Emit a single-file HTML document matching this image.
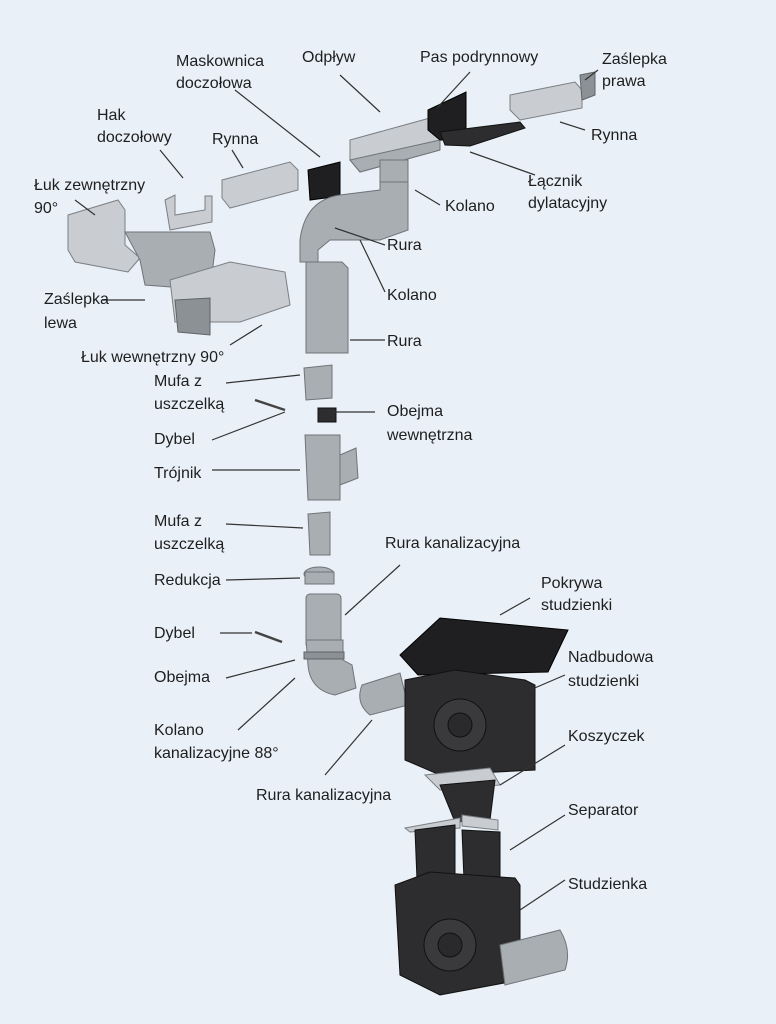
<!DOCTYPE html>
<html><head><meta charset="utf-8"><style>
html,body{margin:0;padding:0;background:#e9f0f7}
svg{display:block}
text{font-family:"Liberation Sans",sans-serif;font-size:16px;fill:#1e1e1e}
.l{stroke:#333;stroke-width:1.2;fill:none}
.g{fill:#a9aeb3;stroke:#6f7479;stroke-width:1}
.gl{fill:#c9cdd1;stroke:#7a7f84;stroke-width:1}
.gd{fill:#8c9196;stroke:#5f6468;stroke-width:1}
.k{fill:#2d2d2f;stroke:#111;stroke-width:1}
.kd{fill:#1f1f21;stroke:#000;stroke-width:1}
</style></head><body>
<svg width="776" height="1024" viewBox="0 0 776 1024">
<rect width="776" height="1024" fill="#e9f0f7"/>
<!-- gutters top -->
<polygon class="gl" points="350,140 430,118 440,130 440,150 360,172 350,160"/>
<polygon class="g" points="350,160 440,140 440,150 360,172"/>
<rect class="g" x="380" y="160" width="28" height="22"/>
<polygon class="kd" points="428,110 466,92 466,140 440,140 428,130"/>
<polygon class="k" points="440,132 520,122 525,128 470,146 445,145"/>
<polygon class="kd" points="308,170 340,162 340,196 310,200"/>
<polygon class="gl" points="510,95 575,82 582,90 582,108 520,120 510,110"/>
<polygon class="gd" points="580,75 595,72 595,95 582,100"/>
<polygon class="gl" points="222,180 290,162 298,170 298,190 230,208 222,198"/>
<polygon class="gl" points="165,200 175,195 175,215 205,210 205,196 212,196 212,222 170,230"/>
<polygon class="gl" points="68,215 118,200 125,210 125,245 140,258 128,272 75,262 68,250"/>
<polygon class="g" points="125,232 210,232 215,250 210,290 145,285 140,260"/>
<polygon class="gl" points="170,280 230,262 285,272 290,305 240,322 175,322"/>
<polygon class="gd" points="175,300 210,298 210,335 178,332"/>
<!-- downpipe -->
<path class="g" d="M380,182 L408,182 L408,230 L380,240 L330,240 L318,250 L318,262 L300,262 L300,240 Q305,200 340,195 L380,190Z"/>
<polygon class="g" points="306,262 342,262 348,268 348,353 306,353"/>
<polygon class="g" points="304,368 332,365 332,398 306,400"/>
<polygon class="k" points="318,408 336,408 336,422 318,422"/>
<polygon class="g" points="305,435 340,435 340,500 308,500"/>
<polygon class="g" points="340,455 356,448 358,478 340,485"/>
<polygon class="g" points="308,514 330,512 330,555 310,555"/>
<ellipse class="g" cx="319" cy="574" rx="15" ry="7"/>
<rect class="g" x="305" y="572" width="29" height="12"/>
<rect class="g" x="306" y="594" width="35" height="54" rx="4"/>
<path class="g" d="M306,640 L343,640 L343,660 L352,665 L356,688 L335,695 Q310,690 308,665Z"/>
<rect class="gd" x="304" y="652" width="40" height="7"/>
<path class="g" d="M362,685 L400,673 L408,705 L370,715 Q355,703 362,685Z"/>
<!-- manhole -->
<polygon class="kd" points="400,655 440,618 568,630 548,672 418,675"/>
<polygon class="k" points="405,680 455,670 525,680 535,685 535,770 440,775 405,760"/>
<circle cx="460" cy="725" r="26" fill="#3a3a3c" stroke="#111"/>
<circle cx="460" cy="725" r="12" fill="#2a2a2c" stroke="#111"/>
<polygon class="gl" points="425,775 490,768 500,785 440,790"/>
<polygon class="k" points="440,785 495,780 490,820 455,822"/>
<polygon class="gl" points="405,828 460,818 460,828 410,832"/>
<polygon class="k" points="415,830 455,825 455,905 418,905"/>
<polygon class="gl" points="462,815 498,820 498,830 462,826"/>
<polygon class="k" points="462,830 500,832 500,910 465,905"/>
<polygon class="k" points="395,885 430,872 515,878 520,885 520,980 440,995 400,975"/>
<circle cx="450" cy="945" r="26" fill="#3a3a3c" stroke="#111"/>
<circle cx="450" cy="945" r="12" fill="#2a2a2c" stroke="#111"/>
<path class="g" d="M500,945 L560,930 Q572,950 565,970 L505,985Z"/>
<!-- dybel objects -->
<path d="M255,400 L285,410" stroke="#444" stroke-width="2.5"/>
<path d="M255,632 L282,642" stroke="#444" stroke-width="2.5"/>
<!-- leader lines -->
<path class="l" d="M235,90 L320,157 M340,75 L380,112 M470,72 L437,108 M598,70 L585,80 M585,130 L560,122 M535,175 L470,152 M440,205 L415,190 M385,245 L335,228 M385,292 L360,240 M385,340 L350,340 M160,150 L183,178 M232,150 L243,168 M75,200 L95,215 M102,300 L145,300 M230,345 L262,325 M226,383 L300,375 M212,440 L285,412 M375,412 L335,412 M212,470 L300,470 M226,524 L303,528 M226,580 L300,578 M400,565 L345,615 M220,633 L252,633 M226,678 L295,660 M238,730 L295,678 M530,598 L500,615 M565,675 L530,690 M325,775 L372,720 M565,745 L500,785 M565,815 L510,850 M565,880 L520,910"/>
<!-- labels -->
<text x="176" y="66">Maskownica</text><text x="176" y="88">doczołowa</text>
<text x="302" y="62">Odpływ</text>
<text x="420" y="62">Pas podrynnowy</text>
<text x="602" y="64">Zaślepka</text><text x="602" y="86">prawa</text>
<text x="97" y="120">Hak</text><text x="97" y="142">doczołowy</text>
<text x="212" y="144">Rynna</text>
<text x="591" y="140">Rynna</text>
<text x="528" y="186">Łącznik</text><text x="528" y="208">dylatacyjny</text>
<text x="445" y="211">Kolano</text>
<text x="34" y="190">Łuk zewnętrzny</text><text x="34" y="213">90°</text>
<text x="387" y="250">Rura</text>
<text x="387" y="300">Kolano</text>
<text x="44" y="304">Zaślepka</text><text x="44" y="328">lewa</text>
<text x="387" y="346">Rura</text>
<text x="81" y="362">Łuk wewnętrzny 90°</text>
<text x="154" y="386">Mufa z</text><text x="154" y="409">uszczelką</text>
<text x="387" y="416">Obejma</text><text x="387" y="440">wewnętrzna</text>
<text x="154" y="444">Dybel</text>
<text x="154" y="478">Trójnik</text>
<text x="154" y="526">Mufa z</text><text x="154" y="549">uszczelką</text>
<text x="385" y="548">Rura kanalizacyjna</text>
<text x="154" y="585">Redukcja</text>
<text x="541" y="588">Pokrywa</text><text x="541" y="610">studzienki</text>
<text x="154" y="638">Dybel</text>
<text x="568" y="662">Nadbudowa</text><text x="568" y="686">studzienki</text>
<text x="154" y="682">Obejma</text>
<text x="154" y="735">Kolano</text><text x="154" y="758">kanalizacyjne 88°</text>
<text x="568" y="741">Koszyczek</text>
<text x="256" y="800">Rura kanalizacyjna</text>
<text x="568" y="815">Separator</text>
<text x="568" y="889">Studzienka</text>
</svg>
</body></html>
